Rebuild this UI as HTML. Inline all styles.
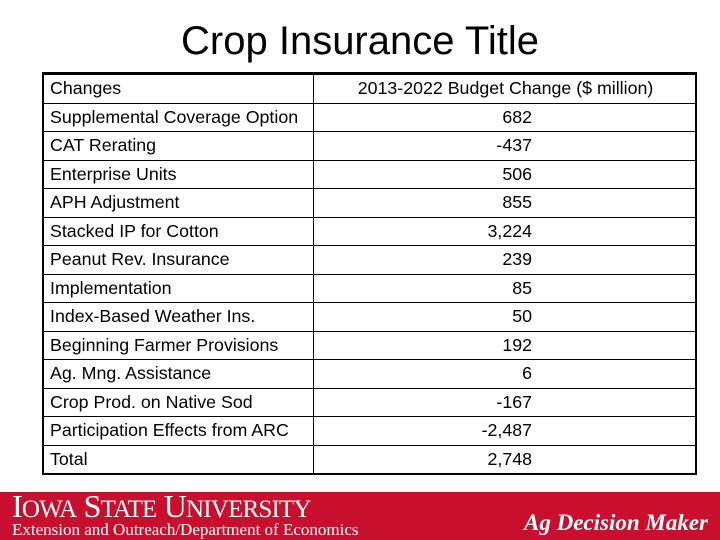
<!DOCTYPE html>
<html><head><meta charset="utf-8"><style>
body{margin:0;width:720px;height:540px;background:#fff;position:relative;overflow:hidden;font-family:"Liberation Sans",Arial,sans-serif;}
#title{position:absolute;left:0;width:720px;top:18px;text-align:center;font-size:40px;line-height:46px;color:#000;}
#tbl{position:absolute;left:42px;top:72px;width:651px;height:399px;border:2px solid #000;}
.row{position:absolute;left:0;width:651px;height:28.7px;border-top:1px solid #000;box-sizing:border-box;font-size:17.8px;}
.row:first-child{border-top:none;}
.lab{position:absolute;left:6px;top:3px;}
.val{position:absolute;right:163px;top:3px;}
.hdr{position:absolute;left:270px;width:383px;text-align:center;top:3px;}
#div{position:absolute;left:269px;top:0;width:1px;height:399px;background:#000;}
#foot{position:absolute;left:0;top:492px;width:720px;height:48px;background:#c8102e;color:#fff;}
#isu{position:absolute;left:12px;top:-4px;font-family:"Liberation Serif",serif;font-size:32px;letter-spacing:-0.8px;}
#isu .s{font-size:25px;}
#ext{position:absolute;left:12px;top:28px;font-family:"Liberation Serif",serif;font-size:17px;}
#adm{position:absolute;right:12px;top:18px;font-family:"Liberation Serif",serif;font-style:italic;font-weight:bold;font-size:23px;}
</style></head><body>
<div id="title">Crop Insurance Title</div>
<div id="tbl">
<div id="div"></div>
</div>
<div id="foot">
<div id="isu">I<span class="s">OWA</span> S<span class="s">TATE</span> U<span class="s">NIVERSITY</span></div>
<div id="ext">Extension and Outreach/Department of Economics</div>
<div id="adm">Ag Decision Maker</div>
</div>
<script>
const labels=["Supplemental Coverage Option","CAT Rerating","Enterprise Units","APH Adjustment","Stacked IP for Cotton","Peanut Rev. Insurance","Implementation","Index-Based Weather Ins.","Beginning Farmer Provisions","Ag. Mng. Assistance","Crop Prod. on Native Sod","Participation Effects from ARC","Total"];
const values=["682","-437","506","855","3,224","239","85","50","192","6","-167","-2,487","2,748"];
const tbl=document.getElementById('tbl');
const rh=399/14;
function mk(i,l,v,hdr){
 const r=document.createElement('div');r.className='row';r.style.top=(i*rh)+'px';
 
 
 const a=document.createElement('div');a.className='lab';a.textContent=l;
 
 
 const b=document.createElement('div');b.className=hdr?'hdr':'val';b.textContent=v;
 
 
 r.appendChild(a);r.appendChild(b);tbl.appendChild(r);
}
mk(0,"Changes","2013-2022 Budget Change ($ million)",true);
labels.forEach((l,i)=>mk(i+1,l,values[i],false));
</script>
</body></html>
